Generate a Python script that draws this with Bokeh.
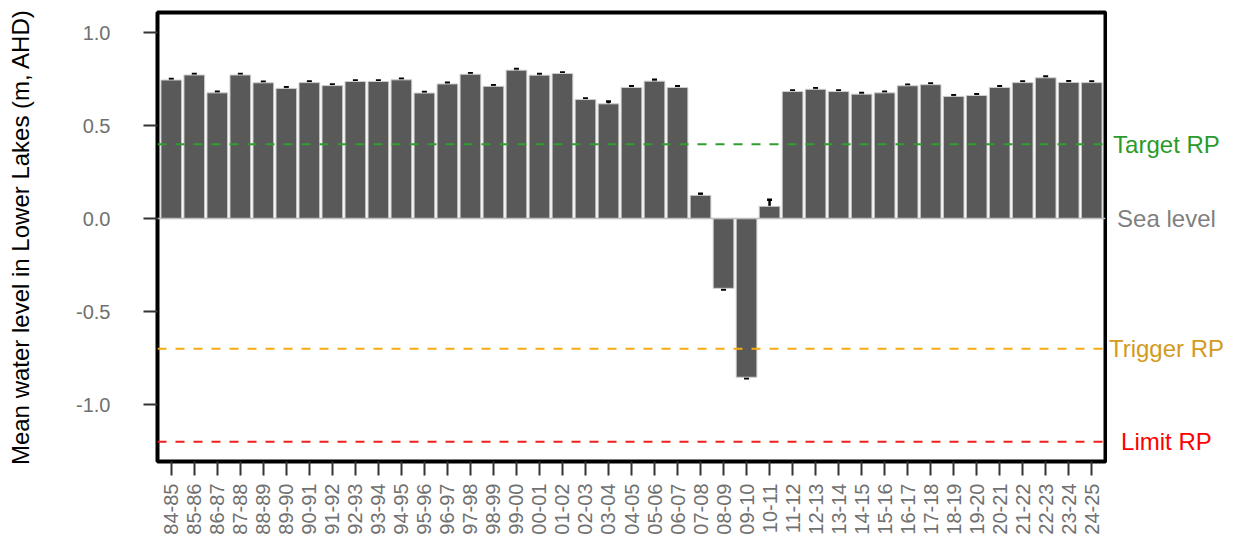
from bokeh.plotting import figure
from bokeh.models import (ColumnDataSource, Range1d, FixedTicker, NumeralTickFormatter,
                          Span, Whisker, TeeHead)
from bokeh.layouts import row
from bokeh.core.properties import value
from bokeh.embed import file_html
from bokeh.resources import INLINE
import math

seasons = ["84-85", "85-86", "86-87", "87-88", "88-89", "89-90", "90-91", "91-92",
           "92-93", "93-94", "94-95", "95-96", "96-97", "97-98", "98-99", "99-00",
           "00-01", "01-02", "02-03", "03-04", "04-05", "05-06", "06-07", "07-08",
           "08-09", "09-10", "10-11", "11-12", "12-13", "13-14", "14-15", "15-16",
           "16-17", "17-18", "18-19", "19-20", "20-21", "21-22", "22-23", "23-24",
           "24-25"]
mean_level = [0.745, 0.772, 0.676, 0.772, 0.730, 0.700, 0.731, 0.715,
              0.737, 0.737, 0.746, 0.675, 0.724, 0.776, 0.711, 0.798,
              0.771, 0.780, 0.640, 0.617, 0.705, 0.739, 0.705, 0.125,
              -0.375, -0.853, 0.066, 0.683, 0.695, 0.683, 0.669, 0.676,
              0.714, 0.720, 0.657, 0.662, 0.705, 0.731, 0.757, 0.732,
              0.731]
std_err = [0.006, 0.006, 0.006, 0.006, 0.006, 0.006, 0.006, 0.006,
           0.006, 0.006, 0.006, 0.006, 0.006, 0.006, 0.006, 0.006,
           0.006, 0.006, 0.006, 0.012, 0.006, 0.007, 0.006, 0.008,
           0.006, 0.006, 0.035, 0.006, 0.006, 0.006, 0.006, 0.006,
           0.006, 0.006, 0.006, 0.006, 0.006, 0.006, 0.007, 0.006,
           0.006]
y_ticks = [-1.0, -0.5, 0.0, 0.5, 1.0]
ref_levels = [0.4, 0.0, -0.7, -1.2]
ref_names = ["Target RP", "Sea level", "Trigger RP", "Limit RP"]
ref_line_colors = ["#2E9E2E", "#BDBDBD", "#F7AA10", "#F21D1D"]
ref_text_colors = ["#2A9A2A", "#7F7F7F", "#D49A1C", "#FF0000"]

xs = list(range(1, len(seasons) + 1))
src = ColumnDataSource(dict(
    x=xs, top=mean_level,
    upper=[m + e for m, e in zip(mean_level, std_err)],
    lower=[m - e for m, e in zip(mean_level, std_err)],
))

FONT = "Liberation Sans"
yr = Range1d(-1.306, 1.108)

p = figure(width=1107, height=543, output_backend="svg", toolbar_location=None,
           x_range=Range1d(0.4, len(seasons) + 0.6), y_range=yr,
           min_border_left=157, min_border_right=2, min_border_top=12,
           min_border_bottom=82)
p.background_fill_color = "white"
p.border_fill_color = "white"
p.xgrid.visible = False
p.ygrid.visible = False
p.outline_line_color = "black"
p.outline_line_width = 4

p.vbar(x="x", top="top", bottom=0, width=0.9, source=src,
       fill_color="#595959", line_color="#CFCFCF", line_width=1)

# reference lines
for lvl, col in zip(ref_levels, ref_line_colors):
    if lvl == 0.0:
        p.add_layout(Span(location=lvl, dimension="width", line_color=col, line_width=1.5))
    else:
        p.add_layout(Span(location=lvl, dimension="width", line_color=col,
                          line_width=2, line_dash="9 9"))

w = Whisker(source=src, base="x", upper="upper", lower="lower", dimension="height",
            line_color="black", line_width=2.5,
            upper_head=TeeHead(size=5, line_width=2.5, line_color="black"),
            lower_head=TeeHead(size=5, line_width=2.5, line_color="black"))
p.add_layout(w)

# axes
p.xaxis.ticker = FixedTicker(ticks=xs)
p.xaxis.major_label_overrides = {x: s for x, s in zip(xs, seasons)}
p.xaxis.major_label_orientation = math.pi / 2
p.xaxis.axis_line_color = None
p.xaxis.major_tick_in = 0
p.xaxis.major_tick_out = 14
p.xaxis.major_tick_line_color = "#333333"
p.xaxis.major_tick_line_width = 2
p.xaxis.minor_tick_line_color = None
p.xaxis.major_label_standoff = 8
p.xaxis.major_label_text_font = FONT
p.xaxis.major_label_text_font_size = "20px"
p.xaxis.major_label_text_color = "#707070"

p.yaxis.ticker = FixedTicker(ticks=y_ticks)
p.yaxis.formatter = NumeralTickFormatter(format="0.0")
p.yaxis.axis_line_color = None
p.yaxis.major_tick_in = 0
p.yaxis.major_tick_out = 14
p.yaxis.major_tick_line_color = "#333333"
p.yaxis.major_tick_line_width = 2
p.yaxis.minor_tick_line_color = None
p.yaxis.major_label_standoff = 33
p.yaxis.major_label_text_font = FONT
p.yaxis.major_label_text_font_size = "20px"
p.yaxis.major_label_text_color = "#707070"
p.yaxis.axis_label = "Mean water level in Lower Lakes (m, AHD)"
p.yaxis.axis_label_text_font = FONT
p.yaxis.axis_label_text_font_size = "24px"
p.yaxis.axis_label_text_font_style = "normal"
p.yaxis.axis_label_text_color = "black"
p.yaxis.axis_label_standoff = 39

# right-hand labels for the reference lines (separate panel sharing the y range)
p2 = figure(width=131, height=543, output_backend="svg", toolbar_location=None,
            x_range=Range1d(0, 1), y_range=yr,
            x_axis_location=None, y_axis_location=None,
            min_border_left=0, min_border_right=0, min_border_top=12,
            min_border_bottom=82)
p2.xgrid.visible = False
p2.ygrid.visible = False
p2.outline_line_color = None
p2.background_fill_color = "white"
p2.border_fill_color = "white"
lab_src = ColumnDataSource(dict(x=[0.45] * len(ref_levels), y=ref_levels,
                                text=ref_names, color=ref_text_colors))
p2.text(x="x", y="y", text="text", text_color="color", source=lab_src,
        text_align="center", text_baseline="middle",
        text_font=value(FONT), text_font_size="24px")

open("out.html", "w").write(file_html(row(p, p2), INLINE))
